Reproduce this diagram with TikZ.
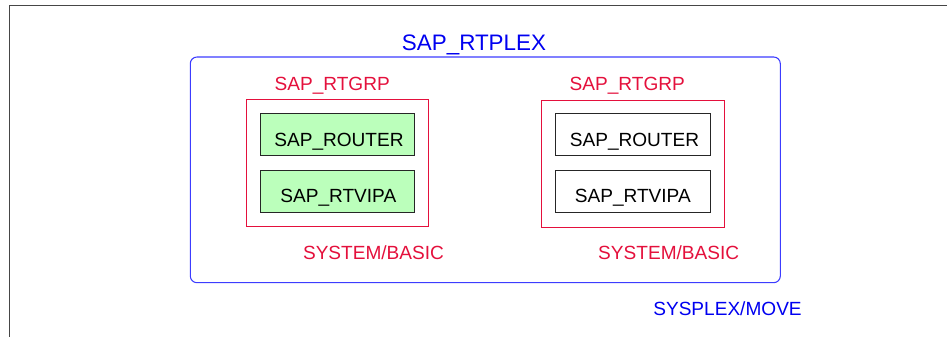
\documentclass[tikz,border=0pt]{standalone}
\usepackage{fontspec}
\setmainfont{Liberation Sans}
\usetikzlibrary{fit}
\definecolor{sapblue}{RGB}{0,0,240}
\definecolor{plexline}{RGB}{60,60,255}
\definecolor{sapred}{RGB}{228,16,60}
\definecolor{sapgreen}{RGB}{187,255,187}
\definecolor{framegray}{RGB}{70,70,70}
\tikzset{
  plexbox/.style={draw=plexline, line width=0.8pt, rounded corners=5pt, inner sep=0pt},
  grpbox/.style={draw=sapred, line width=0.75pt, inner sep=0pt},
  resbox/.style={draw=black!85, line width=0.95pt, inner sep=0pt},
  bluetxt/.style={text=sapblue, inner sep=0pt, anchor=base},
  redtxt/.style={text=sapred, inner sep=0pt, anchor=base, font=\fontsize{14.3}{16}\selectfont},
  blacktxt/.style={text=black, inner sep=0pt, anchor=base, font=\fontsize{14.3}{16}\selectfont},
}
\begin{document}
\begin{tikzpicture}[x=0.75pt,y=-0.75pt]
\useasboundingbox (0,0) rectangle (947,336);
% outer frame
\coordinate (fbl) at (9.5,340);
\coordinate (ftl) at (9.5,5.7);
\coordinate (ftr) at (950,5.7);
\draw[framegray, line width=1pt] (fbl) -- (ftl) -- (ftr);
% sysplex box
\coordinate (p1) at (190.3,57);
\coordinate (p2) at (780.3,282.7);
\node[plexbox, fit=(p1)(p2)] (plex) {};
\node[bluetxt, font=\fontsize{16.8}{19}\selectfont] (plexlbl) at (474,50.7) {SAP\_RTPLEX};
\node[bluetxt, font=\fontsize{14.3}{16}\selectfont] (movelbl) at (727.5,315) {SYSPLEX/MOVE};
% left group
\coordinate (la1) at (246.3,99);
\coordinate (la2) at (428.3,226.7);
\node[grpbox, fit=(la1)(la2)] (lgrp) {};
\node[redtxt] (lgrplbl) at (332.2,90) {SAP\_RTGRP};
\node[redtxt] (lsyslbl) at (373.5,259.3) {SYSTEM/BASIC};
\coordinate (lr1) at (260.3,113.7);
\coordinate (lr2) at (414.3,155.3);
\node[resbox, fill=sapgreen, fit=(lr1)(lr2)] (lrouter) {};
\coordinate (lv1) at (260.3,170.7);
\coordinate (lv2) at (414.3,212.3);
\node[resbox, fill=sapgreen, fit=(lv1)(lv2)] (lvipa) {};
\node[blacktxt] (lroutertxt) at (339,146.7) {SAP\_ROUTER};
\node[blacktxt] (lvipatxt) at (338.3,202.3) {SAP\_RTVIPA};
% right group
\coordinate (ra1) at (541.3,100.3);
\coordinate (ra2) at (724.3,227.3);
\node[grpbox, fit=(ra1)(ra2)] (rgrp) {};
\node[redtxt] (rgrplbl) at (627.3,90) {SAP\_RTGRP};
\node[redtxt] (rsyslbl) at (668.7,259.3) {SYSTEM/BASIC};
\coordinate (rr1) at (555.3,113.7);
\coordinate (rr2) at (710.3,155.3);
\node[resbox, fill=white, fit=(rr1)(rr2)] (rrouter) {};
\coordinate (rv1) at (555.3,170.7);
\coordinate (rv2) at (710.3,212.3);
\node[resbox, fill=white, fit=(rv1)(rv2)] (rvipa) {};
\node[blacktxt] (rroutertxt) at (634.5,146.7) {SAP\_ROUTER};
\node[blacktxt] (rvipatxt) at (632.8,202.3) {SAP\_RTVIPA};
\end{tikzpicture}
\end{document}
